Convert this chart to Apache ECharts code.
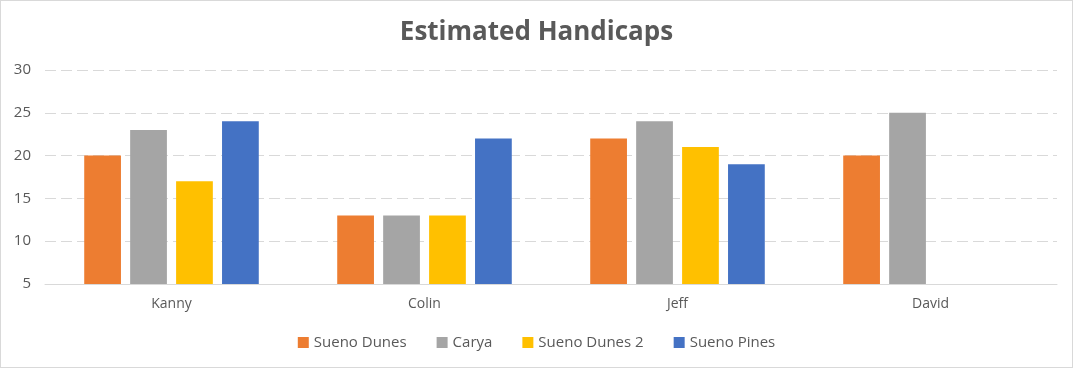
<!DOCTYPE html>
<html><head><meta charset="utf-8">
<script src="https://cdn.jsdelivr.net/npm/echarts@6/dist/echarts.min.js"></script>
<style>html,body{margin:0;padding:0;background:#fff}#c{width:1073px;height:368px;box-sizing:border-box;border:1px solid #D9D9D9}</style>
</head><body><div id="c"></div>
<script>
const categories = ["Kanny", "Colin", "Jeff", "David"];
const seriesNames = ["Sueno Dunes", "Carya", "Sueno Dunes 2", "Sueno Pines"];
const suenoDunes = [20, 13, 22, 20];
const carya = [23, 13, 24, 25];
const suenoDunes2 = [17, 13, 21, null];
const suenoPines = [24, 22, 19, null];
const colors = ["#ED7D31", "#A5A5A5", "#FFC000", "#4472C4"];
const values = [suenoDunes, carya, suenoDunes2, suenoPines];
const chart = echarts.init(document.getElementById('c'));
const font = "'Open Sans', 'Noto Sans', sans-serif";
chart.setOption({
  animation: false,
  title: { text: "Estimated Handicaps", left: 'center', top: 14,
    textStyle: { fontFamily: font, fontSize: 26, fontWeight: 'bold', color: '#595959' } },
  legend: { bottom: 12, itemWidth: 11, itemHeight: 11, itemGap: 30,
    icon: 'rect',
    textStyle: { fontFamily: font, fontSize: 15, color: '#595959' }, data: seriesNames },
  grid: { left: 44, right: 15, top: 69, bottom: 83 },
  xAxis: { type: 'category', data: categories,
    axisLine: { lineStyle: { color: '#D9D9D9' } }, axisTick: { show: false },
    axisLabel: { fontFamily: font, fontSize: 14, color: '#595959', margin: 13 } },
  yAxis: { type: 'value', min: 5, max: 30, interval: 5,
    axisLine: { show: false }, axisTick: { show: false },
    axisLabel: { fontFamily: font, fontSize: 15, color: '#595959', margin: 14 },
    splitLine: { lineStyle: { color: '#D9D9D9', type: [11, 5], width: 1 } } },
  series: seriesNames.map((n, i) => ({
    name: n, type: 'bar', data: values[i], barGap: '25%', barCategoryGap: '31%',
    itemStyle: { color: colors[i] }
  }))
});
</script></body></html>
